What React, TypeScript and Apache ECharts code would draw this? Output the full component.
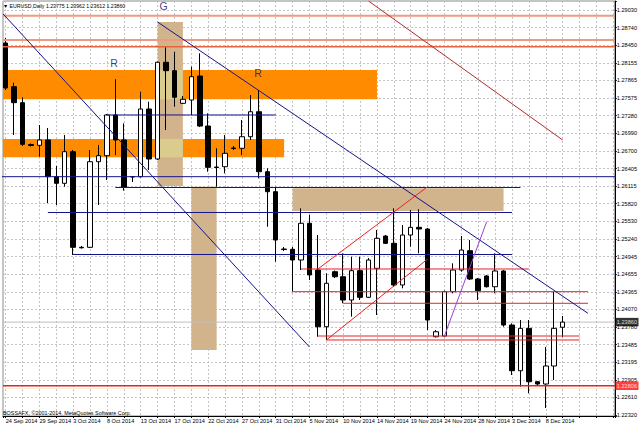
import React, { useEffect, useRef } from 'react';
import * as echarts from 'echarts';

// ---- axis texts ----
const dateLabels = ['24 Sep 2014', '29 Sep 2014', '3 Oct 2014', '8 Oct 2014', '13 Oct 2014', '17 Oct 2014', '22 Oct 2014', '27 Oct 2014', '31 Oct 2014', '5 Nov 2014', '10 Nov 2014', '14 Nov 2014', '19 Nov 2014', '24 Nov 2014', '28 Nov 2014', '3 Dec 2014', '8 Dec 2014'];
const priceLabels = ['1.22320', '1.22610', '1.22905', '1.23195', '1.23485', '1.23780', '1.24070', '1.24365', '1.24655', '1.24945', '1.25240', '1.25530', '1.25820', '1.26115', '1.26405', '1.26700', '1.26990', '1.27280', '1.27575', '1.27865', '1.28155', '1.28450', '1.28740', '1.29030'];

// ---- daily bars (24 Sep 2014 .. 10 Dec 2014, Sunday bars included) ----
const opens = [1.28483, 1.27760, 1.27495, 1.26802, 1.26789, 1.26877, 1.26269, 1.26159, 1.26683, 1.25099, 1.25099, 1.26517, 1.26617, 1.27291, 1.26877, 1.26272, 1.26269, 1.27390, 1.26562, 1.28164, 1.28025, 1.27484, 1.27539, 1.27936, 1.27108, 1.26429, 1.26434, 1.26744, 1.26739, 1.26931, 1.27345, 1.26351, 1.26020, 1.25071, 1.25066, 1.24889, 1.25497, 1.24723, 1.23784, 1.24695, 1.24612, 1.24226, 1.24712, 1.24271, 1.24751, 1.25286, 1.25165, 1.24475, 1.25303, 1.25430, 1.25402, 1.23618, 1.23630, 1.24364, 1.24723, 1.25043, 1.24574, 1.24624, 1.24446, 1.24707, 1.23812, 1.23055, 1.23757, 1.22873, 1.22835, 1.23133, 1.23775];
const highs = [1.28566, 1.27826, 1.27584, 1.26819, 1.27125, 1.27076, 1.26446, 1.26959, 1.26711, 1.25121, 1.26711, 1.26794, 1.27307, 1.27882, 1.27153, 1.26275, 1.27677, 1.27511, 1.28177, 1.28422, 1.28339, 1.27605, 1.28091, 1.28313, 1.27319, 1.26739, 1.26959, 1.26777, 1.27208, 1.27622, 1.27705, 1.26408, 1.26103, 1.25104, 1.25104, 1.25745, 1.25634, 1.25303, 1.24668, 1.24715, 1.25000, 1.24943, 1.24943, 1.24922, 1.25386, 1.25303, 1.25745, 1.25468, 1.25717, 1.25729, 1.25419, 1.23729, 1.24384, 1.24834, 1.25286, 1.25220, 1.24590, 1.24641, 1.25000, 1.24723, 1.23840, 1.23895, 1.23895, 1.22884, 1.23448, 1.24364, 1.23962];
const lows = [1.27705, 1.26959, 1.26777, 1.26769, 1.26600, 1.25833, 1.25800, 1.26103, 1.24972, 1.25079, 1.25088, 1.25800, 1.26214, 1.26628, 1.26037, 1.26181, 1.26256, 1.26380, 1.26545, 1.27042, 1.27428, 1.27472, 1.27291, 1.27091, 1.26351, 1.26103, 1.26325, 1.26711, 1.26628, 1.26877, 1.26242, 1.25440, 1.24861, 1.25038, 1.24364, 1.24723, 1.24557, 1.23618, 1.23564, 1.24590, 1.24172, 1.23950, 1.24226, 1.24259, 1.23978, 1.25154, 1.24446, 1.24420, 1.25109, 1.25000, 1.23729, 1.23605, 1.23622, 1.24337, 1.24695, 1.24557, 1.24226, 1.24433, 1.24337, 1.23784, 1.22984, 1.22790, 1.22681, 1.22818, 1.22437, 1.22901, 1.23612];
const closes = [1.27738, 1.27495, 1.26805, 1.26786, 1.26877, 1.26269, 1.26159, 1.26683, 1.25099, 1.25091, 1.26517, 1.26617, 1.27291, 1.26877, 1.26093, 1.26264, 1.27390, 1.26562, 1.28164, 1.28025, 1.27584, 1.27551, 1.27925, 1.27108, 1.26424, 1.26421, 1.26656, 1.26736, 1.26931, 1.27345, 1.26351, 1.26020, 1.25220, 1.25063, 1.24889, 1.25497, 1.24641, 1.23784, 1.24503, 1.24612, 1.24226, 1.24712, 1.24271, 1.24889, 1.25248, 1.25165, 1.24475, 1.25303, 1.25430, 1.25402, 1.23895, 1.23701, 1.24364, 1.24723, 1.25054, 1.24574, 1.24380, 1.24446, 1.24707, 1.23812, 1.23055, 1.23757, 1.22873, 1.22835, 1.23133, 1.23757, 1.23860];

// ---- current quote ----
const quoteOHLC = [1.23775, 1.23962, 1.23612, 1.23860];
const bidPrice = 1.2386;
const supportPrice = 1.22806;
const askTracePrice = 1.22764;

// ---- drawn objects: [fromBar, toBar, price] / [bar1, price1, bar2, price2] / [bar1, bar2, priceTop, priceBottom] ----
const salmonLevels = [1.28936, 1.28533];
const orangeRedLevels = [1.28422];
const navyLevels = [[12, 32, 1.27291], [-1, 73, 1.26269], [13, 61, 1.2609], [5, 60, 1.25676], [8, 60, 1.2498]];
const redLevels = [[35, 62, 1.2474], [34, 69, 1.24364], [40, 69, 1.24172], [37, 68, 1.2363], [38, 68, 1.23564]];
const navyTrends = [[-0.3, 1.28964, 36, 1.23448], [18, 1.28831, 69, 1.24006]];
const redTrends = [[37, 1.2474, 50, 1.26103], [38, 1.23564, 50, 1.24905]];
const violetTrends = [[52, 1.23635, 57, 1.25523]];
const brownTrends = [[43, 1.29179, 66, 1.26877]];
const orangeZones = [[-2, 44, 1.28036, 1.27551], [-2, 33, 1.26893, 1.2659]];
const tanZones = [[18, 21, 1.28831, 1.26115], [22, 25, 1.26103, 1.23398], [34, 59, 1.26076, 1.257]];
const textMarks: [string, number, number][] = [['G', 18.7, 1.29096], ['R', 12.84, 1.28152], ['R', 29.9, 1.27986]];

// ---- visible window ----
const PRICE_MIN = 1.22305;
const PRICE_MAX = 1.29179;
const BAR_MIN = -0.317;
const BAR_MAX = 72.18;
const LABEL_BASE = 1.2232;
const LABEL_STEP = (1.2903 - 1.2232) / 23;

const FONT = 'Liberation Sans, Arial, sans-serif';
const NAVY = '#14148a';
const RED = '#e82222';

function seg(points: number[][], color: string, width: number, z = 5) {
  return {
    type: 'line',
    data: points,
    symbol: 'none',
    silent: true,
    xAxisIndex: 0,
    yAxisIndex: 0,
    lineStyle: { color, width },
    z,
  };
}

function priceTag(price: number, bg: string) {
  return {
    type: 'scatter',
    silent: true,
    clip: false,
    z: 8,
    xAxisIndex: 0,
    yAxisIndex: 0,
    symbolSize: 1,
    itemStyle: { color: 'transparent' },
    data: [{ name: price.toFixed(5), value: [BAR_MAX, price] }],
    label: {
      show: true,
      position: 'right',
      distance: 0,
      formatter: '{b}',
      color: '#ffffff',
      backgroundColor: bg,
      fontSize: 5.6,
      fontFamily: FONT,
      padding: [1.5, 1.5, 1, 1.5],
    },
  };
}

export default function App() {
  const ref = useRef<HTMLDivElement>(null);

  useEffect(() => {
    if (!ref.current) return;
    const chart = echarts.init(ref.current, undefined, { renderer: 'svg' });

    const overlaps: number[][] = [];
    tanZones.forEach((t) => {
      orangeZones.forEach((o) => {
        const x1 = Math.max(t[0], o[0]);
        const x2 = Math.min(t[1], o[1]);
        const top = Math.min(t[2], o[2]);
        const bot = Math.max(t[3], o[3]);
        if (x2 > x1 && top > bot) overlaps.push([x1, x2, top, bot]);
      });
    });
    const zoneColors = ['#ff8c00', '#d2b48c', '#d9cc8c'];
    const zoneData = [
      ...orangeZones.map((z) => [...z, 0]),
      ...tanZones.map((z) => [...z, 1]),
      ...overlaps.map((z) => [...z, 2]),
    ];

    const series: any[] = [
      {
        type: 'custom',
        silent: true,
        z: 1,
        xAxisIndex: 0,
        yAxisIndex: 0,
        encode: { x: [0, 1], y: [2, 3] },
        data: zoneData,
        renderItem: (params: any, api: any) => {
          const a = api.coord([api.value(0), api.value(2)]);
          const b = api.coord([api.value(1), api.value(3)]);
          const cs = params.coordSys;
          const shape = echarts.graphic.clipRectByRect(
            { x: Math.min(a[0], b[0]), y: Math.min(a[1], b[1]), width: Math.abs(b[0] - a[0]), height: Math.abs(b[1] - a[1]) },
            { x: cs.x, y: cs.y, width: cs.width, height: cs.height }
          );
          if (!shape) return null;
          return { type: 'rect', shape, style: { fill: zoneColors[api.value(4)] } };
        },
      },
      seg([[BAR_MIN, askTracePrice], [BAR_MAX, askTracePrice]], '#f2ead0', 1, 2),
      seg([[BAR_MIN, bidPrice], [BAR_MAX, bidPrice]], '#c0c0c0', 1, 2),
      {
        type: 'candlestick',
        xAxisIndex: 0,
        yAxisIndex: 0,
        z: 3,
        barWidth: 5,
        dimensions: ['bar', 'open', 'close', 'lowest', 'highest'],
        encode: { x: 'bar', y: ['open', 'close', 'lowest', 'highest'] },
        data: opens.map((o, i) => [i, o, closes[i], lows[i], highs[i]]),
        itemStyle: { color: '#ffffff', color0: '#000000', borderColor: '#000000', borderColor0: '#000000', borderWidth: 1 },
      },
      ...salmonLevels.map((p) => seg([[BAR_MIN, p], [BAR_MAX, p]], '#ee9a80', 2, 4)),
      ...orangeRedLevels.map((p) => seg([[BAR_MIN, p], [BAR_MAX, p]], '#e8643c', 1.5, 4)),
      seg([[BAR_MIN, supportPrice], [BAR_MAX, supportPrice]], RED, 1.5, 4),
      ...navyLevels.map((l) => seg([[l[0], l[2]], [l[1], l[2]]], NAVY, 1)),
      ...redLevels.map((l) => seg([[l[0], l[2]], [l[1], l[2]]], RED, 1)),
      ...navyTrends.map((t) => seg([[t[0], t[1]], [t[2], t[3]]], NAVY, 1)),
      ...redTrends.map((t) => seg([[t[0], t[1]], [t[2], t[3]]], RED, 1)),
      ...violetTrends.map((t) => seg([[t[0], t[1]], [t[2], t[3]]], '#9b3fe0', 1)),
      ...brownTrends.map((t) => seg([[t[0], t[1]], [t[2], t[3]]], '#b22a2a', 1)),
      priceTag(bidPrice, '#000000'),
      priceTag(supportPrice, '#ff1010'),
      {
        type: 'scatter',
        silent: true,
        z: 6,
        xAxisIndex: 0,
        yAxisIndex: 0,
        symbolSize: 1,
        itemStyle: { color: 'transparent' },
        data: textMarks.map((t) => ({ name: t[0], value: [t[1], t[2]] })),
        label: {
          show: true,
          position: 'inside',
          formatter: '{b}',
          color: '#0c0c70',
          textBorderWidth: 0,
          fontSize: 10.5,
          fontFamily: FONT,
        },
      },
    ];

    const option: any = {
      animation: false,
      backgroundColor: '#ffffff',
      grid: { left: 0, right: 23, top: 1, bottom: 11, show: true, borderColor: '#8a8a8a', borderWidth: 1, containLabel: false },
      xAxis: [
        {
          type: 'value',
          min: BAR_MIN,
          max: BAR_MAX,
          splitNumber: 36,
          minInterval: 2,
          maxInterval: 2,
          axisLine: { show: true, onZero: false, lineStyle: { color: '#000000', width: 1 } },
          axisTick: { show: true, length: 2, lineStyle: { color: '#000000' } },
          axisLabel: {
            show: true,
            align: 'left',
            margin: 2,
            fontSize: 5.6,
            fontFamily: FONT,
            color: '#000000',
            formatter: (v: number) => {
              const i = Math.round(v);
              if (Math.abs(v - i) > 1e-6 || i < 0 || i % 4 !== 0) return '';
              return dateLabels[i / 4] ?? '';
            },
          },
          splitLine: { show: true, lineStyle: { color: '#c4c4c8', width: 1, type: [2, 2] } },
        },
      ],
      yAxis: [
        {
          type: 'value',
          min: PRICE_MIN,
          max: PRICE_MAX,
          show: false,
          splitLine: { show: false },
        },
        {
          type: 'value',
          position: 'right',
          min: (PRICE_MIN - LABEL_BASE) / LABEL_STEP,
          max: (PRICE_MAX - LABEL_BASE) / LABEL_STEP,
          splitNumber: 24,
          minInterval: 1,
          maxInterval: 1,
          axisLine: { show: true, onZero: false, lineStyle: { color: '#000000', width: 1 } },
          axisTick: { show: true, length: 2, lineStyle: { color: '#000000' } },
          axisLabel: {
            show: true,
            margin: 2,
            fontSize: 5.6,
            fontFamily: FONT,
            color: '#000000',
            formatter: (v: number) => {
              const i = Math.round(v);
              if (Math.abs(v - i) > 1e-6 || i < 0 || i >= priceLabels.length) return '';
              return priceLabels[i];
            },
          },
          splitLine: { show: true, lineStyle: { color: '#c4c4c8', width: 1, type: [2, 2] } },
        },
      ],
      graphic: [
        {
          type: 'text',
          left: 3,
          top: 3,
          z: 10,
          style: {
            text: '▼ EURUSD,Daily ' + quoteOHLC.map((v) => v.toFixed(5)).join(' '),
            fontSize: 5.2,
            fontFamily: FONT,
            fill: '#000000',
          },
        },
        {
          type: 'text',
          left: 3,
          top: 410,
          z: 10,
          style: {
            text: 'BOSSAFX, ©2001-2014, MetaQuotes Software Corp.',
            fontSize: 5.4,
            fontFamily: FONT,
            fill: '#000000',
          },
        },
      ],
      series,
    };

    chart.setOption(option);
    return () => chart.dispose();
  }, []);

  return <div ref={ref} style={{ position: 'absolute', left: 0, top: 0, width: 640, height: 427 }} />;
}
